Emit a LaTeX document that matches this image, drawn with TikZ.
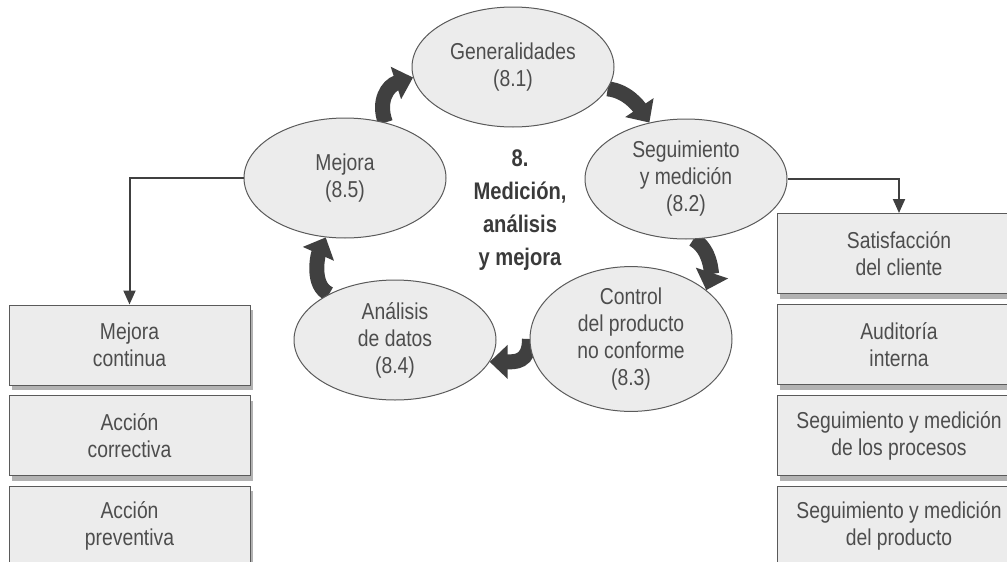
\documentclass[tikz,border=0pt]{standalone}
\usepackage{fontspec}
\setmainfont{Liberation Sans}[FakeStretch=0.84]
\usetikzlibrary{arrows.meta,shadows,shapes.geometric,backgrounds}
\definecolor{txt}{HTML}{4D4D4D}
\definecolor{txtb}{HTML}{3A3A3A}
\definecolor{fillg}{HTML}{ECECEC}
\definecolor{edge}{HTML}{5A5A5A}
\definecolor{arr}{HTML}{404040}
\begin{document}
\begin{tikzpicture}[x=1pt,y=-1pt,
 el/.style={ellipse, draw=edge, fill=fillg, line width=1pt, minimum width=202pt, minimum height=120pt, inner sep=0pt, align=center, text=txt, font=\fontsize{23}{27}\selectfont},
 bx/.style={draw=edge, fill=fillg, line width=1pt, align=center, text=txt, minimum height=80pt, inner sep=0pt, font=\fontsize{23}{27}\selectfont, drop shadow={shadow xshift=3pt, shadow yshift=-5pt, opacity=0.3, fill=black}},
 lbx/.style={bx, minimum width=241pt},
 rbx/.style={bx, minimum width=244pt},
 blk/.style={draw=arr, line width=15pt, -{Triangle[width=33pt,length=18pt]}},
 con/.style={draw=arr, line width=2pt, -{Triangle[width=12pt,length=14pt]}}
]
\useasboundingbox (0,0) rectangle (1007,562);
\clip (0,0) rectangle (1007,562);

% boxes
\node[lbx] (l1) at (129.5,345) {Mejora\\continua};
\node[lbx] (l2) at (129.5,435.5) {Acción\\correctiva};
\node[lbx] (l3) at (129.5,526) {Acción\\preventiva};
\node[rbx] (r1) at (899,253.5) {Satisfacción\\del cliente};
\node[rbx] (r2) at (899,344.5) {Auditoría\\interna};
\node[rbx] (r3) at (899,435.5) {Seguimiento y medición\\de los procesos};
\node[rbx] (r4) at (899,526) {Seguimiento y medición\\del producto};

% ellipses
\node[el] (gen) at (513,67) {Generalidades\\(8.1)};
\node[el] (seg) at (686,179) {Seguimiento\\y medición\\(8.2)};
\node[el] (ctrl) at (631,339) {Control\\del producto\\no conforme\\(8.3)};
\node[el] (ana) at (395,340) {Análisis\\de datos\\(8.4)};
\node[el] (mej) at (345,178) {Mejora\\(8.5)};

% center label
\node[align=center, text=txtb, font=\fontsize{24}{33}\selectfont\bfseries] (ctr) at (520,210) {8.\\Medición,\\análisis\\y mejora};

% connectors
\draw[con] (mej.west) -| (l1.north);
\draw[con] (seg.east) -| (r1.north);

% block arrows
\begin{scope}[on background layer]
\draw[blk] (mej.54) .. controls +(-8,-22) and +(-25,8) .. (gen.186);
\draw[blk] (gen.347) .. controls +(20,2) and +(-10,-15) .. (seg.123);
\draw[blk] (seg.277) .. controls +(18,10) and +(5,-15) .. (ctrl.33);
\draw[blk] (ctrl.180) .. controls +(0,24) and +(25,0) .. (ana.347);
\draw[blk] (ana.145) .. controls +(-18,-8) and +(-8,18) .. (mej.252);
\end{scope}
\end{tikzpicture}
\end{document}
